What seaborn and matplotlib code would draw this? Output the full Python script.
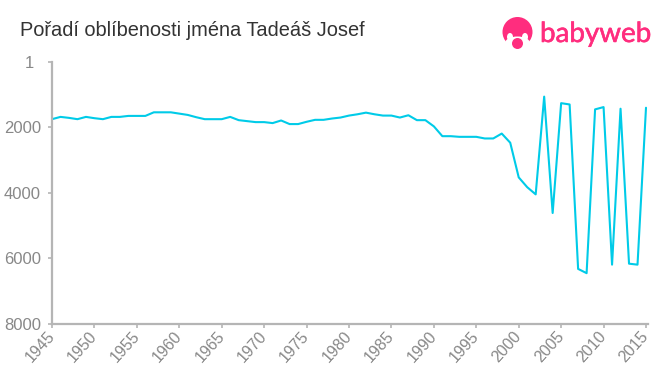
import matplotlib
matplotlib.use('Agg')
import matplotlib.pyplot as plt
from matplotlib.patches import Circle, Ellipse
from matplotlib.transforms import ScaledTranslation
import matplotlib.patheffects as pe
import seaborn as sns
import pandas as pd

years = list(range(1945, 2016))
ranks = [1750, 1680, 1710, 1750, 1680, 1720, 1750, 1680, 1680, 1650,
         1650, 1650, 1540, 1540, 1540, 1580, 1620, 1690, 1750, 1750,
         1750, 1680, 1780, 1810, 1840, 1840, 1870, 1790, 1900, 1900,
         1830, 1770, 1770, 1730, 1700, 1640, 1600, 1550, 1600, 1640,
         1640, 1700, 1630, 1780, 1780, 1970, 2270, 2270, 2290, 2290,
         2290, 2340, 2340, 2190, 2470, 3530, 3830, 4050, 1060, 4620,
         1260, 1300, 6330, 6460, 1450, 1380, 6200, 1430, 6170, 6200,
         1400]
x_ticks = list(range(1945, 2016, 5))
y_ticks = [1, 2000, 4000, 6000, 8000]

title = 'Pořadí oblíbenosti jména Tadeáš Josef'
W, H = 660, 375

sns.set_theme(style='white')
plt.rcParams['font.family'] = ['Liberation Sans', 'DejaVu Sans']

df = pd.DataFrame({'year': years, 'rank': ranks})

fig = plt.figure(figsize=(W / 100, H / 100), dpi=100)
ax = fig.add_axes([52 / W, 1 - 323.5 / H, (648 - 52) / W, (323.5 - 62) / H])
sns.lineplot(data=df, x='year', y='rank', color='#00cbe8', linewidth=1.5, ax=ax)

ax.set_xlim(1945, 1945 + 70 * 596 / 594)
ax.set_ylim(8000, 1)
ax.set_xticks(x_ticks)
ax.set_yticks(y_ticks)
ax.set_xlabel('')
ax.set_ylabel('')
ax.tick_params(axis='both', length=3, width=1.2, color='#b5b5b5', labelcolor='#888888',
               left=True, bottom=True)
ax.tick_params(axis='y', labelsize=12, pad=5)
ax.tick_params(axis='x', labelsize=11.5, pad=4)
plt.setp(ax.get_xticklabels(), rotation=48, ha='right', va='center', rotation_mode='anchor')
sns.despine(ax=ax)
for side in ['left', 'bottom']:
    ax.spines[side].set_color('#b5b5b5')
    ax.spines[side].set_linewidth(1.6)

# the "1" label sits further left than the others
first = ax.get_yticklabels()[0]
first.set_transform(first.get_transform() + ScaledTranslation(-7 / 100, 0, fig.dpi_scale_trans))

fig.text(20 / W, 1 - 31 / H, title, fontsize=14.4, color='#333333', va='center', ha='left')

# logo, drawn in pixel coordinates
pink = '#ff2d7e'
logo = fig.add_axes([0, 0, 1, 1], facecolor='none')
logo.set_xlim(0, W)
logo.set_ylim(H, 0)
logo.axis('off')
logo.add_patch(Circle((517.5, 32), 15, color=pink, lw=0))
logo.add_patch(Ellipse((517.5, 43), 25, 13, color='white', lw=0))
logo.add_patch(Ellipse((510, 37), 6, 8, color='white', lw=0))
logo.add_patch(Ellipse((525, 37), 6, 8, color='white', lw=0))
logo.add_patch(Ellipse((517.5, 31), 3, 5, color=pink, lw=0))
logo.add_patch(Circle((517.5, 43.5), 5.5, color=pink, lw=0))
logo.text(540, 34, 'babyweb', fontsize=20, color=pink, va='center', ha='left',
          family=['Lato', 'DejaVu Sans'],
          path_effects=[pe.withStroke(linewidth=0.4, foreground=pink)])

fig.savefig('out.png', dpi=100)
